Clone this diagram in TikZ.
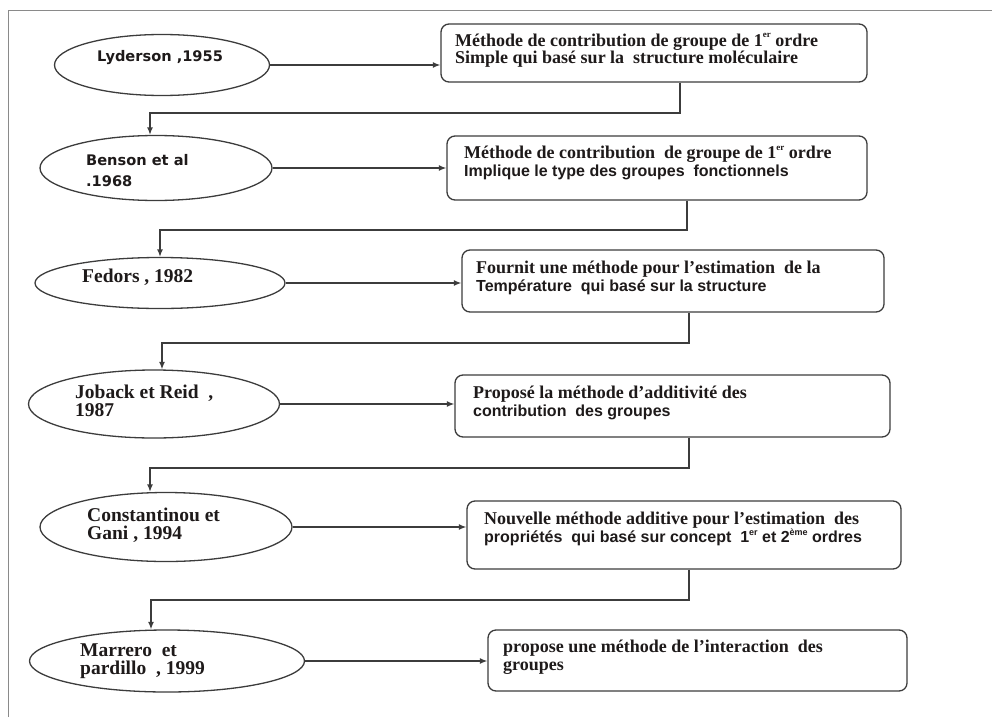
\documentclass[tikz,border=0pt]{standalone}
\usepackage{fontspec}
\setmainfont{Liberation Serif}
\newfontfamily\ellsans{DejaVu Sans}
\newfontfamily\boxsans{Liberation Sans}
\usetikzlibrary{shapes.geometric,arrows.meta}
\definecolor{linec}{HTML}{3C3C3C}
\definecolor{framec}{HTML}{8A8A8A}
\definecolor{txtc}{HTML}{1E1A1A}
\newcommand\srfb{\bfseries\fontsize{18}{17.5}\selectfont}
\newcommand\srfe{\bfseries\fontsize{19.5}{18.5}\selectfont}
\newcommand\snfb{\boxsans\bfseries\fontsize{16}{17.5}\selectfont}
\newcommand\snfe{\ellsans\bfseries\fontsize{14.6}{21}\selectfont}
\newcommand\supx[1]{\raisebox{0.45em}{\fontsize{9}{9}\selectfont #1}}
\begin{document}
\begin{tikzpicture}[x=1pt,y=-1pt,
  ell/.style={draw=linec, line width=1.3pt, ellipse, inner sep=0pt, fill=white},
  mbox/.style={draw=linec, line width=1.3pt, rounded corners=8pt, rectangle, inner sep=0pt, fill=white},
  lbl/.style={anchor=west, align=left, inner sep=0pt, text=txtc},
  conn/.style={draw=linec, line width=1.3pt},
  arr/.style={conn, -{Latex[length=7.5pt,width=6pt]}},
]
\useasboundingbox (0,0) rectangle (992,717);
% frame
\coordinate (fa) at (8,717);
\coordinate (fb) at (8,11);
\coordinate (fc) at (992,11);
\draw[framec, line width=1pt] (fa) -- (fb) -- (fc);

% ellipses
\node[ell, minimum width=215pt, minimum height=61pt] (e1) at (162,65) {};
\node[ell, minimum width=232pt, minimum height=65pt] (e2) at (156,168) {};
\node[ell, minimum width=250pt, minimum height=51pt] (e3) at (160,283) {};
\node[ell, minimum width=251pt, minimum height=68pt] (e4) at (154,404) {};
\node[ell, minimum width=252pt, minimum height=69pt] (e5) at (166,527) {};
\node[ell, minimum width=275pt, minimum height=62pt] (e6) at (167,661) {};

% boxes
\node[mbox, minimum width=426pt, minimum height=58pt] (b1) at (654,53) {};
\node[mbox, minimum width=420pt, minimum height=64pt] (b2) at (657,168) {};
\node[mbox, minimum width=422pt, minimum height=62pt] (b3) at (673,281) {};
\node[mbox, minimum width=435pt, minimum height=62pt] (b4) at (672.5,406) {};
\node[mbox, minimum width=434pt, minimum height=68pt] (b5) at (684,535) {};
\node[mbox, minimum width=419pt, minimum height=61pt] (b6) at (697.5,660.5) {};

% ellipse texts
\node[lbl, font=\snfe] (t1) at (97,58) {Lyderson ,1955};
\node[lbl, font=\snfe] (t2) at (86,171) {Benson et al\\.1968};
\node[lbl, font=\srfe] (t3) at (82,277) {Fedors , 1982};
\node[lbl, font=\srfe] (t4) at (75,401) {Joback et Reid\ \ ,\\1987};
\node[lbl, font=\srfe] (t5) at (87,525) {Constantinou et\\Gani , 1994};
\node[lbl, font=\srfe] (t6) at (80,661) {Marrero\ \ et\\pardillo\ \ , 1999};

% box texts
\node[lbl, font=\srfb] (x1) at (455,50.5) {Méthode de contribution de groupe de 1\supx{er} ordre\\Simple qui basé sur la\ \ structure moléculaire};
\node[lbl, font=\srfb] (x2) at (464,163) {Méthode de contribution\ \ de groupe de 1\supx{er} ordre\\{\snfb Implique le type des groupes\ \ fonctionnels}};
\node[lbl, font=\srfb] (x3) at (476,278) {Fournit une méthode pour l’estimation\ \ de la\\{\snfb Température\ \ qui basé sur la structure}};
\node[lbl, font=\srfb] (x4) at (473,403) {Proposé la méthode d’additivité des\\{\snfb contribution\ \ des groupes}};
\node[lbl, font=\srfb] (x5) at (484,529) {Nouvelle méthode additive pour l’estimation\ \ des\\{\snfb propriétés\ \ qui basé sur concept\ \ 1\supx{er} et 2\supx{ème} ordres}};
\node[lbl, font=\srfb] (x6) at (503,657) {propose une méthode de l’interaction\ \ des\\groupes};

% horizontal arrows
\draw[arr] (e1.east) -- (e1.east -| b1.west);
\draw[arr] (e2.east) -- (e2.east -| b2.west);
\draw[arr] (e3.east) -- (e3.east -| b3.west);
\draw[arr] (e4.east) -- (e4.east -| b4.west);
\draw[arr] (e5.east) -- (e5.east -| b5.west);
\draw[arr] (e6.east) -- (e6.east -| b6.west);

% return connectors
\coordinate (k1a) at (680,113);  \coordinate (k1b) at (150,113);
\coordinate (k2a) at (687,230);  \coordinate (k2b) at (160,230);
\coordinate (k3a) at (689,343);  \coordinate (k3b) at (162,343);
\coordinate (k4a) at (689,468);  \coordinate (k4b) at (150,468);
\coordinate (k5a) at (689,600);  \coordinate (k5b) at (151,600);
\draw[arr] (b1.south -| k1a) -- (k1a) -- (k1b) -- (k1b |- e2.north);
\draw[arr] (b2.south -| k2a) -- (k2a) -- (k2b) -- (k2b |- e3.north);
\draw[arr] (b3.south -| k3a) -- (k3a) -- (k3b) -- (k3b |- e4.north);
\draw[arr] (b4.south -| k4a) -- (k4a) -- (k4b) -- (k4b |- e5.north);
\draw[arr] (b5.south -| k5a) -- (k5a) -- (k5b) -- (k5b |- e6.north);
\end{tikzpicture}
\end{document}
